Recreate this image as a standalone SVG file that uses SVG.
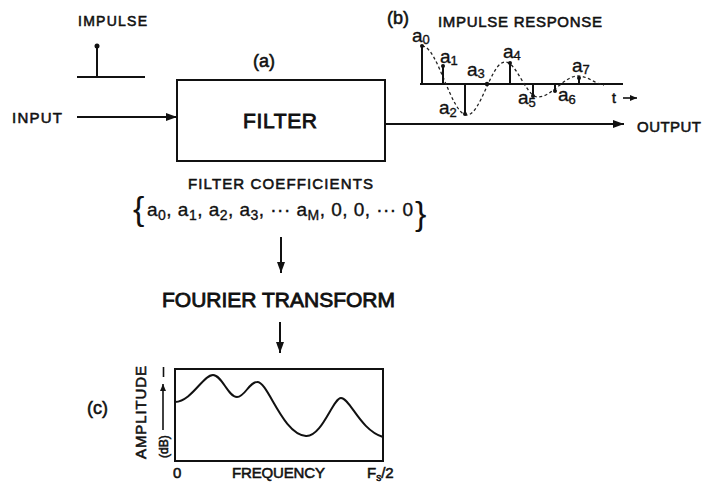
<svg xmlns="http://www.w3.org/2000/svg" width="703" height="485" viewBox="0 0 703 485">
<style>
  text { font-family: "Liberation Sans", Arial, sans-serif; fill: #111; }
  .cap { stroke: #111; stroke-width: 0.55; }
  .big { stroke-width: 0.85; }
  .lbl { font-size: 19px; stroke: #111; stroke-width: 0.35; }
  .sub { font-size: 13px; }
  .ln { stroke: #111; stroke-width: 2; fill: none; }
  .thin { stroke: #111; stroke-width: 1.6; fill: none; }
  .dash { stroke: #222; stroke-width: 1.3; fill: none; stroke-dasharray: 3 2.5; }
  .dot { fill: #111; }
</style>
<defs>
  <marker id="ah" markerUnits="userSpaceOnUse" markerWidth="11" markerHeight="8" refX="11" refY="4" orient="auto">
    <path d="M0,0 L11,4 L0,8 z" fill="#111"/>
  </marker>
  <marker id="ahs" markerUnits="userSpaceOnUse" markerWidth="7" markerHeight="6" refX="7" refY="3" orient="auto">
    <path d="M0,0 L7,3 L0,6 z" fill="#111"/>
  </marker>
</defs>
<rect width="703" height="485" fill="#fff"/>

<!-- input impulse -->
<g id="impulse-input">
  <text class="cap" x="78" y="26" font-size="14" textLength="69">IMPULSE</text>
  <line class="ln" x1="77" y1="77" x2="145" y2="77"/>
  <line class="ln" x1="97" y1="77" x2="97" y2="47"/>
  <circle class="dot" cx="97" cy="46" r="2.5"/>
</g>

<g id="input-label">
  <text class="cap" x="12" y="123" font-size="15" textLength="50">INPUT</text>
</g>

<g id="filter">
  <text class="cap" x="253" y="67" font-size="18" stroke-width="0.3">(a)</text>
  <rect class="ln" x="177" y="80" width="208" height="81"/>
  <text class="cap big" x="243" y="128" font-size="21" textLength="74">FILTER</text>
</g>

<g id="output-label">
  <text class="cap" x="637" y="132" font-size="15" textLength="64">OUTPUT</text>
</g>

<!-- impulse response -->
<g id="impulse-response">
  <text class="cap" x="387" y="24" font-size="18" stroke-width="0.3">(b)</text>
  <text class="cap" x="438" y="27" font-size="15" textLength="164">IMPULSE RESPONSE</text>
  <line class="ln" x1="420" y1="84" x2="623" y2="84"/>
  <path class="dash" d="M422,46 C438,46 451,115 467,115 C481,115 491,62 505,62 C517,62 526,97 538,97 C552,97 564,76 578,76 C588,76 595,84 604,85"/>
  <g class="stems">
    <line class="ln" x1="422" y1="84" x2="422" y2="46"/>
    <line class="ln" x1="443" y1="84" x2="443" y2="66"/>
    <line class="ln" x1="465" y1="84" x2="465" y2="114"/>
    <line class="ln" x1="510" y1="84" x2="510" y2="63"/>
    <line class="ln" x1="533" y1="84" x2="533" y2="96"/>
    <line class="ln" x1="555" y1="84" x2="555" y2="91"/>
    <line class="ln" x1="579" y1="84" x2="579" y2="78"/>
    <circle class="dot" cx="422" cy="46" r="2"/>
    <circle class="dot" cx="443" cy="66" r="2"/>
    <circle class="dot" cx="465" cy="114" r="2"/>
    <circle class="dot" cx="487" cy="84" r="2.2"/>
    <circle class="dot" cx="510" cy="63" r="2"/>
    <circle class="dot" cx="533" cy="96" r="2"/>
    <circle class="dot" cx="555" cy="91" r="2"/>
    <circle class="dot" cx="579" cy="78" r="2"/>
  </g>
  <text class="lbl" x="412" y="42">a<tspan class="sub" dy="2">0</tspan></text>
  <text class="lbl" x="440" y="63">a<tspan class="sub" dy="2">1</tspan></text>
  <text class="lbl" x="439" y="114">a<tspan class="sub" dy="3">2</tspan></text>
  <text class="lbl" x="467" y="76">a<tspan class="sub" dy="2">3</tspan></text>
  <text class="lbl" x="503" y="58">a<tspan class="sub" dy="2">4</tspan></text>
  <text class="lbl" x="518" y="104">a<tspan class="sub" dy="3">5</tspan></text>
  <text class="lbl" x="558" y="101">a<tspan class="sub" dy="3">6</tspan></text>
  <text class="lbl" x="572" y="72">a<tspan class="sub" dy="2">7</tspan></text>
  <text class="cap" x="614" y="103" font-size="14" stroke-width="0.3" text-anchor="middle">t</text>
  <line class="thin" x1="623" y1="98" x2="637" y2="98" marker-end="url(#ahs)"/>
</g>

<!-- coefficients -->
<g id="coefficients">
  <text class="cap" x="188" y="189" font-size="15" textLength="185">FILTER COEFFICIENTS</text>
  <text x="133" y="220" font-size="34">{</text>
  <text class="lbl" x="147" y="216" font-size="22" textLength="266">a<tspan font-size="14" dy="4">0</tspan><tspan dy="-4">, a</tspan><tspan font-size="14" dy="4">1</tspan><tspan dy="-4">, a</tspan><tspan font-size="14" dy="4">2</tspan><tspan dy="-4">, a</tspan><tspan font-size="14" dy="4">3</tspan><tspan dy="-4">, ··· a</tspan><tspan font-size="14" dy="4">M</tspan><tspan dy="-4">, 0, 0, ··· 0</tspan></text>
  <text x="415" y="225" font-size="34">}</text>
</g>

<g id="fourier">
  <text class="cap big" x="162" y="307" font-size="21" textLength="233">FOURIER TRANSFORM</text>
</g>

<!-- spectrum -->
<g id="spectrum">
  <text class="cap" x="87" y="414" font-size="18" stroke-width="0.3">(c)</text>
  <text class="cap" transform="translate(146,459) rotate(-90)" font-size="15" textLength="93">AMPLITUDE</text>
  <text class="cap" transform="translate(168,458) rotate(-90)" font-size="12" stroke-width="0.4">(dB)</text>
  <line class="thin" x1="163" y1="430" x2="163" y2="384" marker-end="url(#ahs)"/>
  <line class="thin" x1="163.5" y1="367" x2="163.5" y2="377"/>
  <rect class="ln" x="175" y="369" width="208" height="92"/>
  <path class="ln" stroke-width="2.6" d="M175,402 C192,401 203,375 213,375 C222,375 228,397 237,397 C245,397 249,382 257,382 C268,381 282,434 306,436 C322,437 333,398 341,398 C350,398 360,430 383,437"/>
  <text class="cap" x="173" y="478" font-size="15">0</text>
  <text class="cap" x="232" y="478" font-size="15" textLength="93">FREQUENCY</text>
  <text class="cap" x="367" y="478" font-size="15">F<tspan font-size="10" dy="3">s</tspan><tspan dy="-3">/2</tspan></text>
</g>

<!-- connectors -->
<g id="connectors">
  <line class="ln" x1="77" y1="117" x2="177" y2="117" marker-end="url(#ah)"/>
  <line class="ln" x1="385" y1="124" x2="624" y2="124" marker-end="url(#ah)"/>
  <line class="ln" x1="281" y1="237" x2="281" y2="273" marker-end="url(#ah)"/>
  <line class="ln" x1="280" y1="322" x2="280" y2="353" marker-end="url(#ah)"/>
</g>
</svg>
